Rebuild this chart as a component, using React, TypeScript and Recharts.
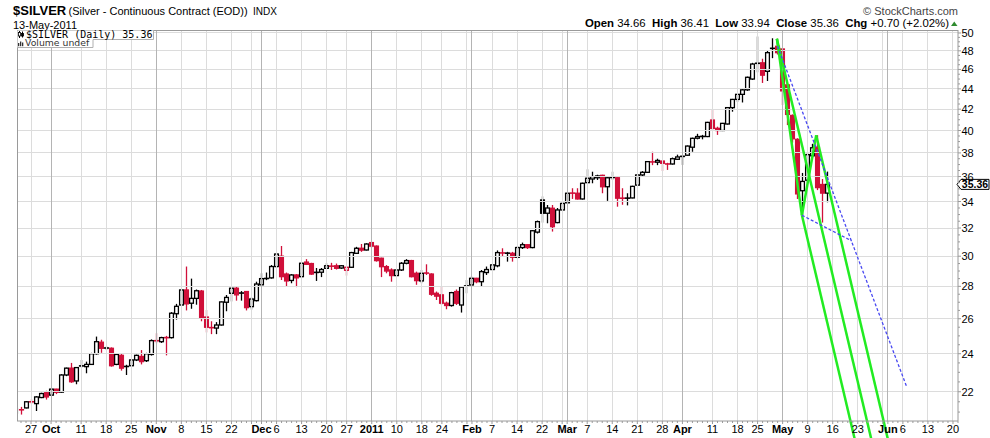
import React from 'react';
import { ComposedChart, Bar, XAxis, YAxis, ReferenceLine, ReferenceDot } from 'recharts';

// ---- Daily OHLC of $SILVER, trading-day index 0 = 22-Sep-2010 ... 162 = 13-May-2011 ----
const openP = [
  20.95, 21.12, 21.2, 21.52, 21.41, 21.71, 21.95, 21.83, 22.13, 21.98, 22.86, 23.22, 22.55, 23.33, 23.3, 23.42, 24.0, 24.64, 24.32, 24.3,
  23.42, 23.91, 23.3, 23.35, 23.66, 23.85, 23.62, 23.96, 24.75, 24.67, 24.92, 24.9, 26.3, 26.83, 27.77, 26.94, 27.24, 27.7, 26.1, 25.5,
  25.45, 25.63, 27.0, 27.56, 27.88, 27.6, 27.67, 26.73, 27.1, 28.1, 28.5, 28.55, 29.3, 30.0, 28.8, 28.38, 28.74, 28.63, 29.6, 29.5,
  28.9, 28.92, 29.18, 29.35, 29.35, 29.2, 29.05, 29.25, 30.2, 30.55, 30.43, 30.95, 30.7, 29.86, 29.29, 29.07, 28.7, 29.07, 29.52, 29.7,
  28.85, 28.35, 28.9, 28.8, 27.56, 27.46, 26.94, 26.8, 27.67, 26.83, 28.0, 28.09, 28.52, 28.3, 28.9, 29.1, 29.35, 30.25, 30.2, 30.2,
  29.93, 30.6, 30.8, 30.6, 31.7, 34.12, 33.1, 33.48, 32.4, 33.35, 33.9, 34.7, 34.65, 34.2, 35.5, 35.8, 35.9, 36.1, 35.17, 35.9,
  35.9, 34.3, 34.25, 34.28, 35.3, 36.13, 36.35, 37.25, 37.2, 37.3, 37.1, 37.05, 37.45, 37.65, 37.8, 38.5, 39.3, 39.45, 39.45, 40.97,
  40.2, 40.0, 40.6, 42.15, 42.95, 43.45, 43.9, 45.0, 46.6, 46.7, 45.8, 48.25, 48.5, 48.2, 44.4, 41.4, 39.2, 34.85, 35.7, 37.75,
  38.5, 35.35, 34.66,
];
const highP = [
  21.2, 21.25, 21.53, 21.62, 21.78, 21.95, 22.05, 22.18, 22.15, 22.9, 23.25, 23.5, 23.28, 23.66, 23.57, 24.05, 24.96, 24.78, 24.4, 24.35,
  24.0, 24.0, 23.4, 23.7, 23.95, 24.2, 24.05, 24.8, 25.15, 24.95, 25.0, 26.4, 26.9, 27.8, 29.3, 28.5, 27.8, 27.77, 26.53, 25.85,
  25.8, 27.05, 27.45, 28.0, 28.0, 27.7, 27.7, 27.3, 28.3, 28.85, 28.9, 29.4, 30.2, 30.71, 28.9, 28.8, 28.8, 29.6, 29.8, 29.55,
  29.2, 29.2, 29.52, 29.55, 29.5, 29.4, 29.3, 30.3, 30.65, 30.85, 30.9, 31.0, 30.75, 29.9, 29.4, 29.18, 29.1, 29.6, 29.8, 29.75,
  28.96, 29.07, 29.45, 28.85, 27.67, 28.0, 27.04, 27.65, 27.8, 28.0, 28.4, 28.63, 28.55, 29.07, 29.3, 29.45, 30.4, 30.55, 30.3, 30.3,
  30.7, 30.95, 30.85, 31.85, 32.55, 34.4, 33.73, 33.73, 33.5, 34.0, 34.7, 35.05, 35.05, 35.5, 36.6, 36.4, 36.15, 36.15, 35.95, 36.4,
  35.95, 35.05, 34.65, 35.25, 36.2, 36.45, 37.3, 38.1, 37.5, 37.32, 37.15, 37.6, 37.85, 37.8, 38.65, 39.35, 39.7, 39.6, 40.8, 41.92,
  40.35, 40.7, 42.2, 43.0, 43.5, 44.0, 45.25, 46.7, 49.6, 47.14, 48.0, 49.4, 49.35, 48.3, 44.5, 41.5, 39.3, 36.3, 38.0, 38.8,
  39.57, 35.8, 36.41,
];
const lowP = [
  20.9, 20.88, 21.18, 21.4, 21.05, 21.68, 21.61, 21.8, 21.88, 21.95, 22.8, 22.45, 22.38, 23.25, 22.95, 23.4, 23.95, 24.05, 24.2, 23.3,
  23.38, 23.09, 22.86, 23.3, 23.6, 23.42, 23.55, 23.9, 24.58, 24.6, 23.91, 24.85, 25.95, 26.8, 26.5, 26.6, 26.85, 25.85, 25.2, 25.1,
  25.1, 25.6, 26.45, 27.05, 27.1, 27.1, 26.5, 26.55, 27.05, 28.05, 28.4, 28.5, 29.2, 28.41, 28.0, 28.2, 27.95, 28.55, 29.4, 28.74,
  28.35, 28.6, 29.15, 29.07, 29.1, 29.15, 28.7, 29.2, 30.15, 30.3, 30.4, 30.6, 29.63, 28.6, 28.85, 28.3, 28.65, 29.0, 29.45, 28.58,
  28.1, 28.2, 28.74, 27.4, 27.14, 26.83, 26.57, 26.73, 26.83, 26.37, 27.56, 28.0, 28.2, 27.99, 28.74, 29.05, 29.25, 29.97, 29.63, 29.63,
  29.86, 30.5, 30.5, 30.55, 31.6, 32.4, 32.35, 31.74, 32.35, 33.3, 33.85, 34.2, 34.15, 34.15, 35.45, 35.45, 35.72, 34.65, 34.05, 35.72,
  33.6, 33.75, 33.7, 34.25, 35.25, 36.0, 36.3, 36.95, 36.95, 36.45, 36.55, 37.0, 37.4, 36.97, 37.75, 38.1, 39.2, 39.2, 39.4, 40.04,
  39.6, 39.95, 40.55, 41.76, 42.7, 42.65, 43.8, 44.9, 45.7, 44.6, 44.8, 47.2, 47.6, 42.4, 40.5, 38.9, 34.2, 32.95, 35.5, 37.6,
  34.9, 32.4, 33.94,
];
const closeP = [
  21.17, 21.1, 21.5, 21.48, 21.74, 21.91, 21.74, 22.13, 21.97, 22.86, 23.22, 22.51, 23.25, 23.35, 23.42, 24.0, 24.67, 24.3, 24.31, 23.35,
  23.96, 23.22, 23.32, 23.66, 23.91, 23.57, 24.0, 24.73, 24.7, 24.9, 24.88, 26.33, 26.75, 27.77, 26.9, 27.24, 27.72, 26.08, 25.5, 25.45,
  25.63, 27.02, 27.3, 27.88, 27.46, 27.55, 26.67, 27.2, 28.15, 28.5, 28.52, 29.3, 30.15, 28.63, 28.35, 28.74, 28.55, 29.52, 29.45, 28.8,
  28.92, 29.1, 29.35, 29.3, 29.18, 29.35, 29.25, 30.25, 30.55, 30.42, 30.85, 30.7, 29.7, 29.29, 29.0, 28.7, 29.07, 29.52, 29.7, 28.63,
  28.37, 28.85, 28.83, 27.5, 27.38, 26.94, 26.8, 27.6, 26.94, 27.95, 28.05, 28.52, 28.3, 28.96, 29.1, 29.41, 30.25, 30.2, 30.22, 29.93,
  30.6, 30.8, 30.6, 31.8, 32.47, 33.1, 33.5, 32.1, 33.35, 33.85, 34.65, 34.62, 34.2, 35.45, 35.86, 35.99, 36.05, 35.17, 35.9, 35.95,
  34.26, 34.22, 34.28, 35.2, 36.13, 36.35, 37.25, 37.2, 37.35, 37.11, 37.0, 37.5, 37.65, 37.75, 38.6, 39.29, 39.45, 39.47, 40.75, 40.2,
  40.0, 40.66, 42.15, 42.95, 43.45, 43.9, 45.18, 46.57, 46.7, 45.4, 47.8, 48.3, 47.8, 43.8, 41.5, 39.25, 34.6, 35.6, 37.85, 38.45,
  35.1, 34.66, 35.36,
];

// ---- x axis: trading-day indices of week / month starts and their labels ----
const monthIdx = [7, 28, 49, 71, 91, 110, 133, 153, 174];
const weekIdx = [3, 13, 18, 23, 33, 38, 43, 47, 52, 57, 62, 66, 76, 81, 85, 90, 95, 100, 105, 109, 114, 119, 124, 129, 139, 144, 148, 158, 163, 168, 173, 177, 182, 187];
const xLabelIdx = [3, 7, 13, 18, 23, 28, 33, 38, 43, 49, 52, 57, 62, 66, 71, 76, 81, 85, 91, 95, 100, 105, 110, 114, 119, 124, 129, 133, 139, 144, 148, 153, 158, 163, 168, 174, 177, 182, 187];
const xLabelText = ['27', 'Oct', '11', '18', '25', 'Nov', '8', '15', '22', 'Dec', '6', '13', '20', '27', '2011', '10', '18', '24', 'Feb', '7', '14', '22', 'Mar', '7', '14', '21', '28', 'Apr', '11', '18', '25', 'May', '9', '16', '23', 'Jun', '6', '13', '20'];

// ---- y axis (log scale) ----
const yMajorTicks = [22, 24, 26, 28, 30, 32, 34, 36, 38, 40, 42, 44, 46, 48, 50];

// ---- drawn studies: pitchfork pivots and dashed trend lines (index, price) ----
const pivotIdx = [151.85, 156.85, 159.7];
const pivotVal = [49.35, 32.95, 39.57];
const trendLongIdx = [151.99, 177.78];
const trendLongVal = [48.5, 22.24];
const trendShortIdx = [156.85, 166.77];
const trendShortVal = [32.95, 31.07];

const X_DOMAIN: [number, number] = [0.2, 188];
const Y_DOMAIN: [number, number] = [20.575, 50.344];
const FONT = "'Liberation Sans', Arial, Helvetica, sans-serif";
const RED = '#d0103a';
const GREEN = '#22ec22';
const BLUE = '#4848f2';

const candles = openP.map((o, i) => ({
  i,
  o,
  h: highP[i],
  l: lowP[i],
  c: closeP[i],
  pc: i > 0 ? closeP[i - 1] : o,
  range: [lowP[i], highP[i]],
}));

const xMinorTicks: number[] = [];
for (let k = 1; k <= 188; k++) xMinorTicks.push(k);
const yMinorTicks: number[] = [];
for (let v = 21; v <= 50; v += 0.5) yMinorTicks.push(v);

const labelMap = new Map<number, string>();
xLabelIdx.forEach((v, k) => labelMap.set(v, xLabelText[k]));
const majorSet = new Set<number>([...weekIdx, ...monthIdx]);
const monthSet = new Set<number>(monthIdx);

// pitchfork geometry (pixel-straight lines: linear in index, linear in log price)
const END_VAL = 19.3;
const lnA = Math.log(pivotVal[0]);
const lnB = Math.log(pivotVal[1]);
const lnC = Math.log(pivotVal[2]);
const midIdx = (pivotIdx[1] + pivotIdx[2]) / 2;
const lnM = (lnB + lnC) / 2;
const dI = midIdx - pivotIdx[0];
const dL = lnM - lnA;
const extend = (i0: number, v0: number) => {
  const t = (Math.log(END_VAL) - Math.log(v0)) / dL;
  return { x: i0 + t * dI, y: END_VAL };
};
const pfSegments = [
  [{ x: pivotIdx[0], y: pivotVal[0] }, extend(pivotIdx[0], pivotVal[0])],
  [{ x: pivotIdx[1], y: pivotVal[1] }, extend(pivotIdx[1], pivotVal[1])],
  [{ x: pivotIdx[2], y: pivotVal[2] }, extend(pivotIdx[2], pivotVal[2])],
  [{ x: pivotIdx[0], y: pivotVal[0] }, { x: pivotIdx[1], y: pivotVal[1] }],
  [{ x: pivotIdx[1], y: pivotVal[1] }, { x: pivotIdx[2], y: pivotVal[2] }],
];

const Candle = (props: any) => {
  const { x, y, width, height, payload } = props;
  if (!payload || x == null || y == null) return null;
  const { o, h, l, c, pc } = payload;
  const top = Math.min(y, y + height);
  const bot = Math.max(y, y + height);
  const k = (bot - top) / (Math.log(h) - Math.log(l) || 1);
  const yv = (v: number) => top + (Math.log(h) - Math.log(v)) * k;
  const cx = Math.round(x + width / 2 - 0.5) + 0.5;
  const col = c >= pc ? '#000' : RED;
  const yo = yv(o);
  const yc = yv(c);
  const bTop = Math.min(yo, yc);
  const bBot = Math.max(yo, yc);
  const filled = c < o;
  return (
    <g>
      <line x1={cx} x2={cx} y1={top} y2={bot} stroke={col} strokeWidth={1.3} />
      {bBot - bTop < 1.5 ? (
        <line x1={cx - 2.6} x2={cx + 2.6} y1={(yo + yc) / 2} y2={(yo + yc) / 2} stroke={col} strokeWidth={1.6} />
      ) : (
        <rect x={cx - 1.9} y={bTop} width={3.8} height={bBot - bTop} fill={filled ? col : '#fff'} stroke={col} strokeWidth={1.3} />
      )}
    </g>
  );
};

const XTick = (props: any) => {
  const { x, y, payload } = props;
  const v = payload.value;
  const label = labelMap.get(v);
  const major = majorSet.has(v);
  return (
    <g>
      <line x1={x} x2={x} y1={y} y2={y + (major ? 3 : 2)} stroke="#9a9a9a" strokeWidth={1} />
      {label !== undefined && (
        <text x={x} y={y + 11.8} textAnchor="middle" fontSize={11} fontFamily={FONT} fontWeight={monthSet.has(v) ? 'bold' : 'normal'} fill="#000">
          {label}
        </text>
      )}
    </g>
  );
};

const YTick = (props: any) => {
  const { x, y, payload } = props;
  const v = payload.value;
  const major = yMajorTicks.indexOf(v) >= 0;
  return (
    <g>
      <line x1={x} x2={x + (major ? 3 : 2)} y1={y} y2={y} stroke="#9a9a9a" strokeWidth={1} />
      {major && (
        <text x={x + 3.5} y={y + 4} fontSize={11} fontFamily={FONT} fill="#000">
          {v}
        </text>
      )}
    </g>
  );
};

const lastIdx = closeP.length - 1;
const lastClose = closeP[lastIdx];
const chg = closeP[lastIdx] - closeP[lastIdx - 1];
const chgPct = (chg / closeP[lastIdx - 1]) * 100;

const PriceTag = (p: any) => {
  const { cx, cy } = p;
  if (cx == null || cy == null) return null;
  const x0 = cx - 1;
  return (
    <g>
      <polygon
        points={`${x0},${cy} ${x0 + 4},${cy - 5} ${x0 + 32},${cy - 5} ${x0 + 32},${cy + 5} ${x0 + 4},${cy + 5}`}
        fill="#fff"
        stroke="#000"
        strokeWidth={1}
      />
      <text x={x0 + 18} y={cy + 4} textAnchor="middle" fontSize={10.5} fontWeight="bold" fontFamily={FONT} fill="#000">
        {lastClose.toFixed(2)}
      </text>
    </g>
  );
};

export default function App() {
  return (
    <div style={{ position: 'absolute', left: 0, top: 0, width: 990, height: 438, background: '#fff', overflow: 'hidden' }}>
      <ComposedChart width={990} height={438} data={candles} margin={{ top: 30, right: 0, bottom: 0, left: 17 }}>
        <XAxis
          dataKey="i"
          type="number"
          domain={X_DOMAIN}
          allowDataOverflow
          ticks={xMinorTicks}
          interval={0}
          tick={<XTick />}
          tickLine={false}
          tickSize={0}
          tickMargin={0}
          height={17}
          axisLine={{ stroke: '#9a9a9a' }}
        />
        <YAxis
          orientation="right"
          type="number"
          scale="log"
          domain={Y_DOMAIN}
          allowDataOverflow
          ticks={yMinorTicks}
          interval={0}
          tick={<YTick />}
          tickLine={false}
          tickSize={0}
          tickMargin={0}
          width={32}
          axisLine={{ stroke: '#9a9a9a' }}
        />
        {yMajorTicks.map((v) => (
          <ReferenceLine key={'h' + v} y={v} stroke="#dcdcdc" strokeWidth={1} shapeRendering="crispEdges" />
        ))}
        {weekIdx.map((v) => (
          <ReferenceLine key={'w' + v} x={v} stroke="#dcdcdc" strokeWidth={1} shapeRendering="crispEdges" />
        ))}
        {monthIdx.map((v) => (
          <ReferenceLine key={'m' + v} x={v} stroke="#b4b4b4" strokeWidth={1} shapeRendering="crispEdges" />
        ))}
        <ReferenceLine x={X_DOMAIN[0]} stroke="#9a9a9a" ifOverflow="visible" shapeRendering="crispEdges" />
        <ReferenceLine y={Y_DOMAIN[1]} stroke="#9a9a9a" ifOverflow="visible" shapeRendering="crispEdges" />
        <Bar dataKey="range" barSize={5} shape={<Candle />} isAnimationActive={false} />
        {pfSegments.map((s, k) => (
          <ReferenceLine key={'pf' + k} segment={s} stroke={GREEN} strokeWidth={2.5} ifOverflow="visible" />
        ))}
        <ReferenceLine
          segment={[{ x: trendLongIdx[0], y: trendLongVal[0] }, { x: trendLongIdx[1], y: trendLongVal[1] }]}
          stroke={BLUE}
          strokeWidth={1.3}
          strokeDasharray="3 2"
          ifOverflow="visible"
        />
        <ReferenceLine
          segment={[{ x: trendShortIdx[0], y: trendShortVal[0] }, { x: trendShortIdx[1], y: trendShortVal[1] }]}
          stroke={BLUE}
          strokeWidth={1.3}
          strokeDasharray="3 2"
          ifOverflow="visible"
        />
        <ReferenceDot x={X_DOMAIN[1]} y={lastClose} ifOverflow="visible" shape={<PriceTag />} />
      </ComposedChart>

      <svg width={990} height={438} style={{ position: 'absolute', left: 0, top: 0, pointerEvents: 'none' }} fontFamily={FONT}>
        <text x={13} y={15} fontSize={13} fontWeight="bold" fill="#000">$SILVER</text>
        <text x={68.5} y={15} fontSize={11} fill="#000">(Silver - Continuous Contract (EOD))</text>
        <text x={253} y={15} fontSize={10} fill="#000">INDX</text>
        <text x={13} y={28.5} fontSize={11} fill="#000">13-May-2011</text>
        <text x={958} y={15} fontSize={11} textAnchor="end" fill="#444">© StockCharts.com</text>
        <text x={949} y={26.5} fontSize={11.4} textAnchor="end" fill="#000" style={{ whiteSpace: 'pre' }}>
          <tspan fontWeight="bold">Open</tspan>
          <tspan>{' ' + openP[lastIdx].toFixed(2) + '  '}</tspan>
          <tspan fontWeight="bold">High</tspan>
          <tspan>{' ' + highP[lastIdx].toFixed(2) + '  '}</tspan>
          <tspan fontWeight="bold">Low</tspan>
          <tspan>{' ' + lowP[lastIdx].toFixed(2) + '  '}</tspan>
          <tspan fontWeight="bold">Close</tspan>
          <tspan>{' ' + closeP[lastIdx].toFixed(2) + '  '}</tspan>
          <tspan fontWeight="bold">Chg</tspan>
          <tspan>{' +' + chg.toFixed(2) + ' (+' + chgPct.toFixed(2) + '%)'}</tspan>
        </text>
        <polygon points="951,26 957.5,26 954.25,21.5" fill="#2e8b2e" />

        {/* legend boxes */}
        <rect x={17.5} y={30.5} width={136} height={9} fill="#fff" />
        <rect x={17.5} y={39.5} width={75.5} height={8} fill="#fff" />
        <polyline points="153.5,30.5 153.5,39.5 93,39.5 93,47.5 17,47.5" fill="none" stroke="#b0b0b0" strokeWidth={1} />
        <line x1={19.5} x2={19.5} y1={31} y2={38} stroke="#000" strokeWidth={1} />
        <rect x={18.5} y={32.5} width={2} height={3.5} fill="#fff" stroke="#000" strokeWidth={0.8} />
        <line x1={22.5} x2={22.5} y1={31.5} y2={37.5} stroke="#000" strokeWidth={1} />
        <rect x={21.5} y={33.5} width={2} height={2.5} fill="#000" stroke="#000" strokeWidth={0.8} />
        <text x={26} y={37.8} fontSize={10} fontFamily="'DejaVu Sans Mono', monospace" fill="#000">
          {'$SILVER (Daily) ' + lastClose.toFixed(2)}
        </text>
        <rect x={18} y={43} width={1.3} height={3.2} fill="#333" />
        <rect x={20} y={41.5} width={1.3} height={4.7} fill="#333" />
        <rect x={22} y={42.5} width={1.3} height={3.7} fill="#333" />
        <text x={25} y={46.3} fontSize={9.3} fontFamily="'DejaVu Sans', sans-serif" fill="#333">Volume undef</text>
      </svg>
    </div>
  );
}
